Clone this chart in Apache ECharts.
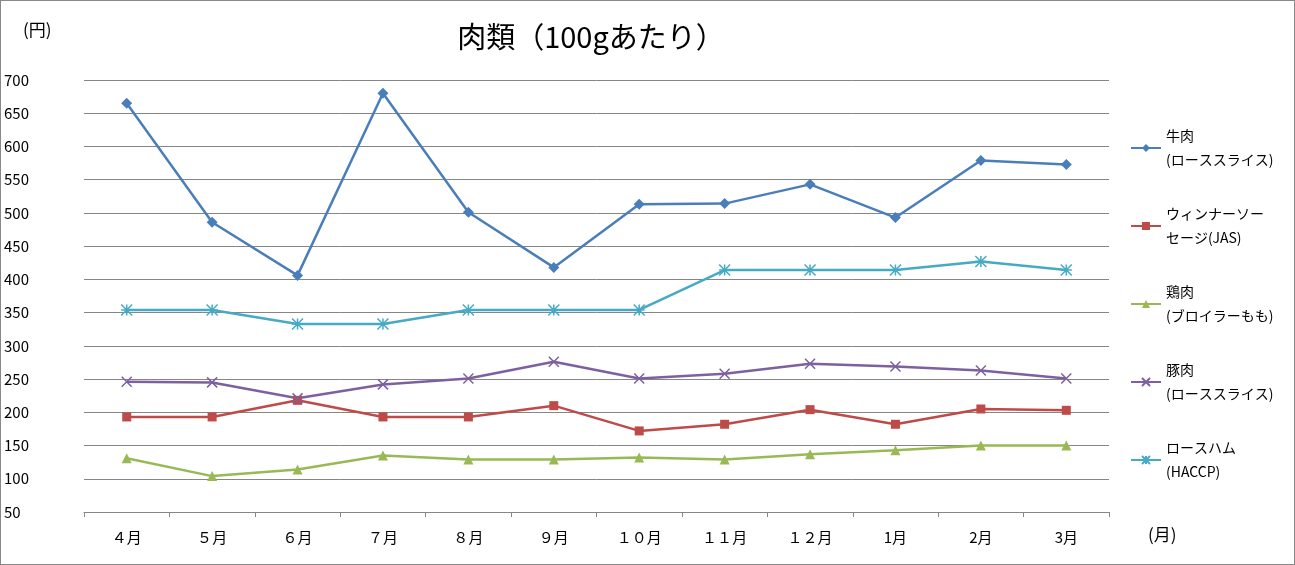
<!DOCTYPE html>
<html lang="ja">
<head>
<meta charset="utf-8">
<title>肉類</title>
<script src="https://cdn.jsdelivr.net/npm/echarts@6/dist/echarts.min.js"></script>
<style>
html,body{margin:0;padding:0;background:#fff;}
#container{width:1293px;height:563px;border:1px solid #888;}
</style>
</head>
<body>
<div id="container"></div>
<script>
const months = ["４月", "５月", "６月", "７月", "８月", "９月", "１０月", "１１月", "１２月", "1月", "2月", "3月"];
const beef = [665, 486, 406, 680, 501, 418, 513, 514, 543, 493, 579, 573];
const sausage = [193, 193, 218, 193, 193, 210, 172, 182, 204, 182, 205, 203];
const chicken = [131, 104, 114, 135, 129, 129, 132, 129, 137, 143, 150, 150];
const pork = [246, 245, 221, 242, 251, 276, 251, 258, 273, 269, 263, 251];
const ham = [354, 354, 333, 333, 354, 354, 354, 414, 414, 414, 427, 414];

const names = ["牛肉\n(ローススライス)", "ウィンナーソー\nセージ(JAS)", "鶏肉\n(ブロイラーもも)", "豚肉\n(ローススライス)", "ロースハム\n(HACCP)"];
const colors = ["#4a7ebb", "#be4b48", "#98b954", "#7d60a0", "#46aac5"];
const symbols = ["diamond", "rect", "triangle",
    "path://M0,0L2,2M2,0L0,2",
    "path://M0,1L2,1M1,0L1,2M0,0L2,2M2,0L0,2"];
const sizes = [11, 9, 10, 10, 11];
const values = [beef, sausage, chicken, pork, ham];

const font = "'Noto Sans CJK JP', sans-serif";

const series = values.map((v, i) => ({
    name: names[i],
    type: "line",
    data: v,
    symbol: symbols[i],
    symbolSize: sizes[i],
    color: colors[i],
    lineStyle: {width: 2.5, color: colors[i]},
    itemStyle: i >= 3 ? {color: "transparent", borderColor: colors[i], borderWidth: 1.5} : {color: colors[i]}
}));

const chart = echarts.init(document.getElementById("container"));
chart.setOption({
    animation: false,
    textStyle: {fontFamily: font},
    title: {
        text: "肉類（100gあたり）",
        left: 585, top: 16,
        textAlign: "center",
        textStyle: {fontSize: 29, fontWeight: "normal", color: "#000", fontFamily: font}
    },
    graphic: [
        {type: "text", left: 22, top: 20, style: {text: "(円)", fontSize: 17, fill: "#000", fontFamily: font}},
        {type: "text", left: 1147, top: 525, style: {text: "(月)", fontSize: 17, fill: "#000", fontFamily: font}}
    ],
    legend: {
        orient: "vertical",
        left: 1124, top: 118,
        itemGap: 30,
        itemWidth: 30, itemHeight: 10,
        textStyle: {fontSize: 14, color: "#000", lineHeight: 24, fontFamily: font},
        data: names
    },
    grid: {left: 83, right: 185, top: 79, bottom: 52},
    xAxis: {
        type: "category",
        data: months,
        axisLine: {lineStyle: {color: "#868686"}},
        axisTick: {show: true, length: 5, lineStyle: {color: "#868686"}},
        axisLabel: {fontSize: 15, color: "#000", margin: 18}
    },
    yAxis: {
        type: "value",
        min: 50, max: 700, interval: 50,
        axisLine: {show: false},
        axisTick: {show: false},
        axisLabel: {fontSize: 15, color: "#000", margin: 20, align: "left", padding: [0, 0, 0, -60]},
        splitLine: {lineStyle: {color: "#868686"}}
    },
    series: series
});
</script>
</body>
</html>
